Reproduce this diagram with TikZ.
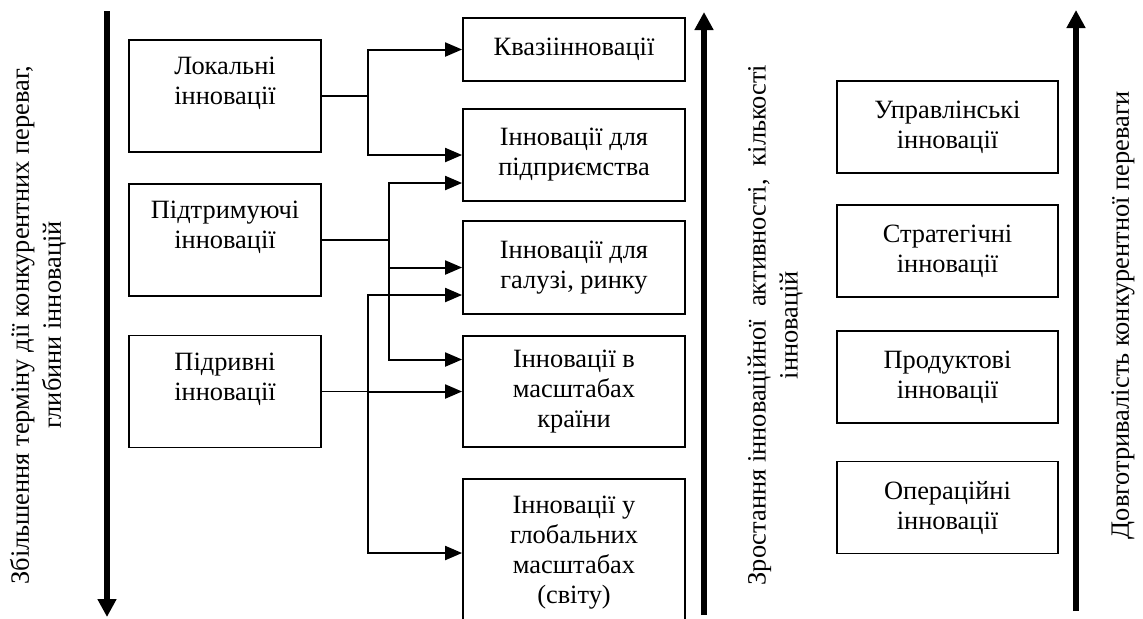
\documentclass[tikz,border=0pt]{standalone}
\usepackage{fontspec}
\setmainfont{Liberation Serif}
\usetikzlibrary{arrows.meta}

\begin{document}
\begin{tikzpicture}[x=0.5pt,y=-0.5pt,
    font=\fontsize{13.2}{15}\selectfont,
    box/.style={draw,line width=0.9pt,align=center,inner sep=0pt},
    lbox/.style={box,minimum width=96pt,minimum height=56pt},
    mbox/.style={box,minimum width=111pt},
    rbox/.style={box,minimum width=110.5pt,minimum height=46pt},
    feed/.style={line width=0.6pt},
    arr/.style={line width=1pt,-{Triangle[length=8.5pt,width=7pt]}},
    axis/.style={line width=3pt,-{Triangle[length=9pt,width=9pt]}},
    axislabel/.style={rotate=90,align=center,font=\fontsize{13.2}{16}\selectfont}]
    \useasboundingbox (0,0) rectangle (1143,618);
    % axes
    \coordinate (ltop) at (107,11);
    \coordinate (lbot) at (107,617);
    \coordinate (mbot) at (704,615);
    \coordinate (mtop) at (704,12);
    \coordinate (rbot) at (1076,611);
    \coordinate (rtop) at (1076,10);
    \draw [axis] (ltop) -- (lbot);
    \draw [axis] (mbot) -- (mtop);
    \draw [axis] (rbot) -- (rtop);
    \node[axislabel] (depth) at (38,325) {Збільшення терміну дії конкурентних переваг,\\глибини інновацій};
    \node[axislabel] (growth) at (775,325) {Зростання інноваційної~ активності,~ кількості\\інновацій};
    \node[axislabel] (durab) at (1123,315) {Довготривалість конкурентної переваги};
    % left column
    \node[lbox] (local) at (225,96) {Локальні\\інновації\\~};
    \node[lbox] (support) at (225,240) {Підтримуючі\\інновації\\~};
    \node[lbox] (disrupt) at (225,391.5) {Підривні\\інновації\\~};
    % middle column
    \node[mbox,minimum height=31.5pt] (quasi) at (574,49.5) {Квазіінновації};
    \node[mbox,minimum height=46pt] (firm) at (574,155) {Інновації для\\підприємства};
    \node[mbox,minimum height=46.5pt] (industry) at (574,267.5) {Інновації для\\галузі, ринку};
    \node[mbox,minimum height=55.5pt] (country) at (574,391.5) {Інновації в\\масштабах\\країни};
    \node[mbox,minimum height=74pt] (global) at (574,553) {Інновації у\\глобальних\\масштабах\\(світу)};
    % right column
    \node[rbox] (mgmt) at (947.5,127) {Управлінські\\інновації};
    \node[rbox] (strat) at (947.5,251) {Стратегічні\\інновації};
    \node[rbox] (prod) at (947.5,377) {Продуктові\\інновації};
    \node[rbox] (oper) at (947.5,507.5) {Операційні\\інновації};
    % links
    \coordinate (j1) at (368,96);
    \coordinate (j2) at (389,240);
    \coordinate (j3) at (368,391.5);
    \draw [feed] (local.east) -- (j1);
    \draw [arr] (j1) |- (quasi.west);
    \draw [arr] (j1) |- (firm.west);
    \draw [feed] (support.east) -- (j2);
    \draw [arr] (j2) |- ([yshift=-14pt]firm.west);
    \draw [arr] (j2) |- (industry.west);
    \draw [arr] (j2) |- ([yshift=16pt]country.west);
    \draw [feed] (disrupt.east) -- (j3);
    \draw [arr] (j3) -- (country.west);
    \draw [arr] (j3) |- ([yshift=-13.75pt]industry.west);
    \draw [arr] (j3) |- (global.west);
\end{tikzpicture}
\end{document}
